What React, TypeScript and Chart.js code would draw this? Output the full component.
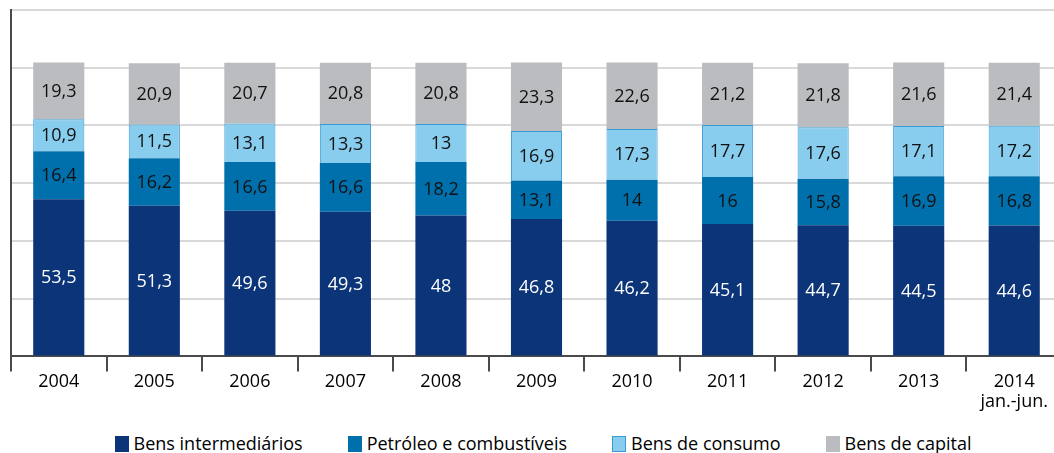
import React, { useEffect, useRef } from "react";
import { Chart, registerables } from "chart.js";

Chart.register(...registerables);

const categories: (string | string[])[] = [
  "2004", "2005", "2006", "2007", "2008", "2009", "2010", "2011", "2012", "2013",
  ["2014", "jan.-jun."],
];
const bensIntermediarios = [53.5, 51.3, 49.6, 49.3, 48, 46.8, 46.2, 45.1, 44.7, 44.5, 44.6];
const petroleoCombustiveis = [16.4, 16.2, 16.6, 16.6, 18.2, 13.1, 14, 16, 15.8, 16.9, 16.8];
const bensConsumo = [10.9, 11.5, 13.1, 13.3, 13, 16.9, 17.3, 17.7, 17.6, 17.1, 17.2];
const bensCapital = [19.3, 20.9, 20.7, 20.8, 20.8, 23.3, 22.6, 21.2, 21.8, 21.6, 21.4];

const seriesNames = ["Bens intermediários", "Petróleo e combustíveis", "Bens de consumo", "Bens de capital"];
const seriesValues = [bensIntermediarios, petroleoCombustiveis, bensConsumo, bensCapital];
const seriesColors = ["#0B3479", "#0070AC", "#88CDEE", "#BBBCC0"];
const seriesBorders = ["#0B3479", "#0070AC", "#3A9AD3", "#BBBCC0"];
const labelColors = ["#FFFFFF", "#111111", "#111111", "#111111"];

const yMax = 118;
const gridDivisions = 6;

const FONT = "'Open Sans', 'Noto Sans', sans-serif";

const segmentLabels = {
  id: "segmentLabels",
  afterDatasetsDraw(chart: any) {
    const ctx = chart.ctx;
    ctx.save();
    ctx.font = `18px ${FONT}`;
    ctx.textAlign = "center";
    ctx.textBaseline = "middle";
    chart.data.datasets.forEach((ds: any, di: number) => {
      const meta = chart.getDatasetMeta(di);
      meta.data.forEach((el: any, i: number) => {
        const v = ds.data[i];
        const y = (el.y + el.base) / 2;
        ctx.fillStyle = labelColors[di];
        ctx.fillText(String(v).replace(".", ","), el.x, y + 1);
      });
    });
    ctx.restore();
  },
};

export default function App() {
  const ref = useRef<HTMLCanvasElement | null>(null);

  useEffect(() => {
    if (!ref.current) return;
    const chart = new Chart(ref.current, {
      type: "bar",
      data: {
        labels: categories as any,
        datasets: seriesNames.map((name, i) => ({
          label: name,
          data: seriesValues[i],
          backgroundColor: seriesColors[i],
          borderColor: seriesBorders[i],
          borderWidth: i === 2 ? 1 : 0,
          barPercentage: 0.535,
          categoryPercentage: 1,
        })),
      },
      options: {
        animation: false,
        responsive: false,
        maintainAspectRatio: false,
        layout: { padding: { left: 11, top: 10, right: 0, bottom: 0 } },
        plugins: {
          legend: { display: false },
          tooltip: { enabled: false },
        },
        scales: {
          x: {
            stacked: true,
            offset: true,
            grid: {
              display: true,
              drawOnChartArea: false,
              drawTicks: true,
              tickLength: 15,
              color: "#4A4A4A",
              lineWidth: 2,
              offset: true,
            },
            border: { display: true, color: "#4A4A4A", width: 2 },
            ticks: {
              color: "#000",
              font: { family: FONT, size: 18, lineHeight: 1.1 },
              padding: 1,
              maxRotation: 0,
              autoSkip: false,
            },
          },
          y: {
            stacked: true,
            min: 0,
            max: yMax,
            afterBuildTicks: (scale: any) => {
              const t = [];
              for (let k = 0; k <= gridDivisions; k++) t.push({ value: (yMax / gridDivisions) * k });
              scale.ticks = t;
            },
            grid: { color: "#D9D9D9", lineWidth: 2, drawTicks: false },
            border: { display: true, color: "#4A4A4A", width: 2 },
            ticks: { display: false },
          },
        },
      },
      plugins: [segmentLabels],
    });
    return () => chart.destroy();
  }, []);

  return (
    <div
      style={{
        position: "fixed",
        left: 0,
        top: 0,
        width: 1054,
        height: 453,
        overflow: "hidden",
        background: "#fff",
      }}
    >
      <canvas
        ref={ref}
        width={1062}
        height={413}
        style={{ position: "absolute", left: 0, top: 0, width: 1062, height: 413 }}
      />
      <div
        style={{
          position: "absolute",
          left: 0,
          top: 434,
          width: 1086,
          display: "flex",
          justifyContent: "center",
          gap: 45,
          fontFamily: FONT,
          fontSize: 18,
          lineHeight: "19px",
          color: "#000",
          whiteSpace: "nowrap",
        }}
      >
        {seriesNames.map((name, i) => (
          <div key={name} style={{ display: "flex", alignItems: "center" }}>
            <span
              style={{
                display: "inline-block",
                width: i === 2 ? 12 : 14,
                height: i === 2 ? 14 : 16,
                background: seriesColors[i],
                border: i === 2 ? `1px solid ${seriesBorders[i]}` : "none",
                marginRight: 5,
              }}
            />
            <span>{name}</span>
          </div>
        ))}
      </div>
    </div>
  );
}
